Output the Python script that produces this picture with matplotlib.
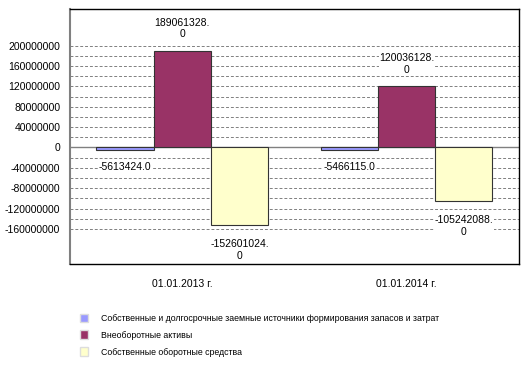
import matplotlib.pyplot as plt
import numpy as np
from matplotlib.patches import Patch

plt.rcParams['font.family'] = ['Liberation Sans', 'DejaVu Sans']

# data
categories = ["01.01.2013 г.", "01.01.2014 г."]
series_names = [
    "Собственные и долгосрочные заемные источники формирования запасов и затрат",
    "Внеоборотные активы",
    "Собственные оборотные средства",
]
own_long_sources = [-5613424.0, -5466115.0]
non_current_assets = [189061328.0, 120036128.0]
own_working_capital = [-152601024.0, -105242088.0]
labels = [
    ["-5613424.0", "-5466115.0"],
    ["189061328.\n0", "120036128.\n0"],
    ["-152601024.\n0", "-105242088.\n0"],
]
colors = ["#9999ff", "#993366", "#ffffcc"]

fig = plt.figure(figsize=(5.28, 3.72), dpi=100)
ax = fig.add_axes([0.1326, 0.290, 0.850, 0.686])

x = np.arange(len(categories))
w = 0.255
values = [own_long_sources, non_current_assets, own_working_capital]

# grid
for g in range(-160000000, 200000001, 20000000):
    if g != 0:
        ax.axhline(g, color="#808080", linestyle=(0, (3, 2)), linewidth=0.7, zorder=0)
ax.axhline(0, color="#808080", linewidth=1.0, zorder=1)

box = dict(facecolor="white", edgecolor="none", pad=0.3)
for i, vals in enumerate(values):
    xs = x + (i - 1) * w
    ax.bar(xs, vals, width=w, color=colors[i], edgecolor="#333333", linewidth=0.8, zorder=2)
    for j, v in enumerate(vals):
        if i == 0:
            ax.text(xs[j], -28000000, labels[i][j], ha="center", va="top", fontsize=7.5,
                    bbox=box, zorder=3)
        elif v > 0:
            ax.text(xs[j], v + 23000000, labels[i][j], ha="center", va="bottom", fontsize=7.5,
                    linespacing=1.2, bbox=box, zorder=3)
        else:
            ax.text(xs[j], v - 28000000, labels[i][j], ha="center", va="top", fontsize=7.5,
                    linespacing=1.2, bbox=box, zorder=3)

ax.set_xlim(-0.5, 1.5)
ax.set_ylim(-229000000, 272000000)
ax.set_yticks(range(-160000000, 200000001, 40000000))
ax.set_yticklabels([str(t) for t in range(-160000000, 200000001, 40000000)], fontsize=7.5)
ax.set_xticks(x)
ax.set_xticklabels(categories, fontsize=7.5)
ax.tick_params(axis="both", length=0)
ax.tick_params(axis="x", pad=11)
ax.tick_params(axis="y", pad=7)

for s in ["top", "right", "bottom"]:
    ax.spines[s].set_color("black")
    ax.spines[s].set_linewidth(1.0)
ax.spines["left"].set_color("#808080")
ax.spines["left"].set_linewidth(1.5)

handles = [Patch(facecolor=c, edgecolor="#dddddd") for c in colors]
fig.legend(handles, series_names, loc="upper left", bbox_to_anchor=(0.144, 0.166),
           frameon=False, fontsize=6.3, handlelength=0.95, handleheight=1.15,
           handletextpad=1.5, labelspacing=0.85, borderaxespad=0)

fig.savefig("out.png", dpi=100)
